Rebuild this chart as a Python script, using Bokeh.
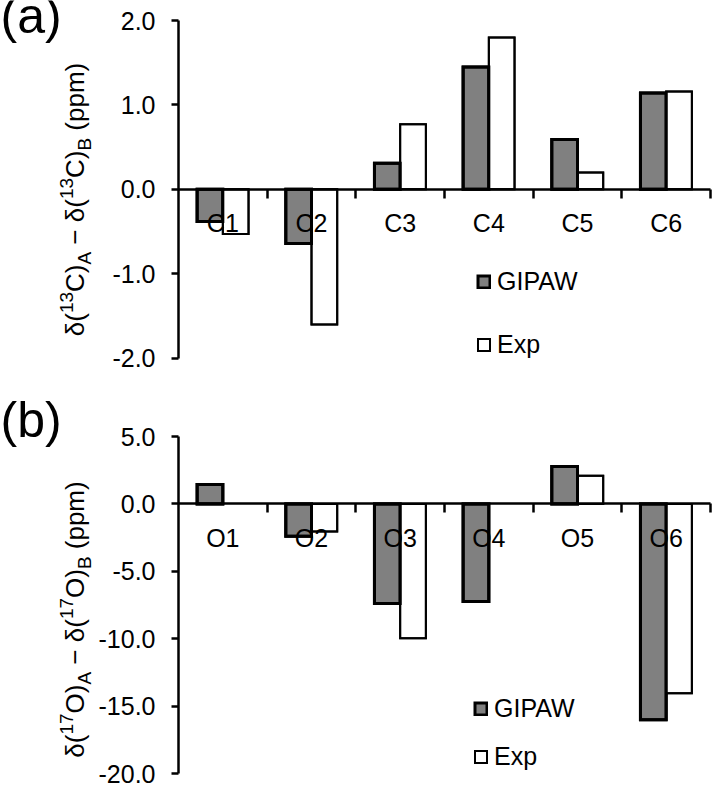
import math
import numpy as np
from bokeh.plotting import figure
from bokeh.models import (Range1d, FixedTicker, NumeralTickFormatter, Label,
                          Legend, LegendItem, ColumnDataSource)
from bokeh.layouts import column
from bokeh.core.properties import value
from bokeh.embed import file_html
from bokeh.resources import INLINE

# ---------------- data ----------------
carbon_labels = ["C1", "C2", "C3", "C4", "C5", "C6"]
carbon_gipaw = [-0.38, -0.64, 0.31, 1.45, 0.59, 1.14]
carbon_exp = [-0.53, -1.60, 0.77, 1.80, 0.20, 1.16]
carbon_ticks = [-2.0, -1.0, 0.0, 1.0, 2.0]

oxygen_labels = ["O1", "O2", "O3", "O4", "O5", "O6"]
oxygen_gipaw = [1.44, -2.40, -7.38, -7.23, 2.77, -16.00]
oxygen_exp = [float("nan"), -2.05, -9.95, float("nan"), 2.10, -14.03]
oxygen_ticks = [-20.0, -15.0, -10.0, -5.0, 0.0, 5.0]

series_names = ["GIPAW", "Exp"]

# ---------------- style / layout ----------------
FONT = "Liberation Sans"
W = 716
AX_X, AX_END = 178.0, 710.0          # pixel position of y-axis and end of category axis
CAT_W = (AX_END - AX_X) / 6.0
BAR_W = 0.29
GRAY = "#808080"

WIDTHS = {"(": 333, ")": 333, "C": 722, "O": 778, "A": 667, "B": 667, "1": 556,
          "3": 556, "7": 556, " ": 278, "\u2212": 584, "p": 556, "m": 833,
          "\u03b4": 556}


def text_w(s, size):
    return sum(WIDTHS.get(ch, 556) for ch in s) * size / 1000.0


def make_panel(cats, gipaw, exp, ticks, height, px_top, px_bottom, panel_tag, tag_mid,
               iso, legend_x, legend_y, legend_spacing, label_center):
    ymin, ymax = ticks[0], ticks[-1]
    ppu = (px_bottom - px_top) / (ymax - ymin)
    y_end = ymax + px_top / ppu
    y_start = ymin - (height - px_bottom) / ppu
    x_start = -AX_X / CAT_W
    x_end = (W - AX_X) / CAT_W

    def dx(cx):
        return (cx - AX_X) / CAT_W

    def dy(cy):
        return ymax - (cy - px_top) / ppu

    p = figure(width=W, height=height, x_range=Range1d(x_start, x_end),
               y_range=Range1d(y_start, y_end),
               output_backend="svg", toolbar_location=None, title=None, min_border=0)
    p.outline_line_color = None
    p.grid.visible = False
    p.background_fill_color = "white"
    p.border_fill_color = "white"

    # value axis, drawn at x = 0 of the category scale
    ax = p.yaxis[0]
    ax.fixed_location = 0
    ax.bounds = (ymin, ymax)
    ax.ticker = FixedTicker(ticks=ticks)
    ax.formatter = NumeralTickFormatter(format="0.0")
    ax.axis_line_width = 2.5
    ax.axis_line_color = "black"
    ax.major_tick_line_width = 2.5
    ax.major_tick_line_color = "black"
    ax.major_tick_out = 7
    ax.major_tick_in = 0
    ax.minor_tick_line_color = None
    ax.major_label_standoff = 16
    ax.major_label_text_font = FONT
    ax.major_label_text_font_size = "25px"
    ax.major_label_text_color = "black"

    # category axis, drawn at y = 0
    cx_ = p.xaxis[0]
    cx_.fixed_location = 0
    cx_.bounds = (0, len(cats))
    cx_.ticker = FixedTicker(ticks=list(range(1, len(cats) + 1)))
    cx_.axis_line_width = 2.5
    cx_.axis_line_color = "black"
    cx_.major_tick_line_width = 2.5
    cx_.major_tick_line_color = "black"
    cx_.major_tick_out = 9
    cx_.major_tick_in = 0
    cx_.minor_tick_line_color = None
    cx_.major_label_text_color = None

    centers = [i + 0.5 for i in range(len(cats))]
    src = ColumnDataSource(dict(
        xg=[c - BAR_W / 2 for c in centers], xe=[c + BAR_W / 2 for c in centers],
        g=np.array(gipaw, dtype=float), e=np.array(exp, dtype=float)))
    rg = p.vbar(x="xg", top="g", bottom=0, width=BAR_W, source=src, fill_color=GRAY,
                line_color="black", line_width=3, line_join="miter")
    re_ = p.vbar(x="xe", top="e", bottom=0, width=BAR_W, source=src, fill_color="white",
                 line_color="black", line_width=2, line_join="miter")

    # category labels just under the zero line
    p.text(x=centers, y=[0] * len(cats), text=cats, text_align="center",
           text_baseline="middle", y_offset=34, text_font=value(FONT),
           text_font_size="25px", text_color="black")
    # bar outlines over the labels (as in the original rendering)
    p.vbar(x="xg", top="g", bottom=0, width=BAR_W, source=src, fill_color=None,
           line_color="black", line_width=3, line_join="miter")
    p.vbar(x="xe", top="e", bottom=0, width=BAR_W, source=src, fill_color=None,
           line_color="black", line_width=2, line_join="miter")

    legend = Legend(items=[LegendItem(label=series_names[0], renderers=[rg]),
                           LegendItem(label=series_names[1], renderers=[re_])],
                    location=(legend_x, legend_y), orientation="vertical",
                    glyph_width=15, glyph_height=15, label_height=15,
                    label_standoff=6, spacing=legend_spacing, padding=0, margin=0,
                    border_line_color=None, background_fill_alpha=0,
                    label_text_font=FONT, label_text_font_size="25px",
                    label_text_color="black")
    p.add_layout(legend)

    # panel tag "(a)" / "(b)"
    p.add_layout(Label(x=dx(0), y=dy(tag_mid), text=panel_tag, text_font=FONT,
                       text_font_size="50px", text_align="left",
                       text_baseline="middle", text_color="black"))

    # rotated y-axis title with super/subscripts
    F, S = 26, 19
    pieces = [("\u03b4(", "main"), (iso[0], "sup"), (iso[1] + ")", "main"), ("A", "sub"),
              (" \u2212 \u03b4(", "main"), (iso[0], "sup"), (iso[1] + ")", "main"),
              ("B", "sub"), (" (ppm)", "main")]
    sizes = {"main": F, "sup": S, "sub": S}
    total = sum(text_w(t, sizes[k]) for t, k in pieces)
    mid_cx = {"main": 74, "sup": 66, "sub": 84}
    cy = label_center + total / 2.0
    for t, k in pieces:
        lead = len(t) - len(t.lstrip(" "))
        start = cy - text_w(" " * lead, sizes[k])
        p.add_layout(Label(x=dx(mid_cx[k]), y=dy(start), text=t.lstrip(" "),
                           angle=math.pi / 2, text_align="left",
                           text_baseline="middle", text_font=FONT,
                           text_font_size=f"{sizes[k]}px", text_color="black"))
        cy -= text_w(t, sizes[k])
    return p


p1 = make_panel(carbon_labels, carbon_gipaw, carbon_exp, carbon_ticks, 380, 20.0, 357.7,
                "(a)", 15, ("13", "C"), 476, 21, 34, 199)
p2 = make_panel(oxygen_labels, oxygen_gipaw, oxygen_exp, oxygen_ticks, 406, 56.0, 393.3,
                "(b)", 39.5, ("17", "O"), 473, 15, 19, 239)

layout = column(p1, p2)
open("out.html", "w").write(file_html(layout, INLINE))
